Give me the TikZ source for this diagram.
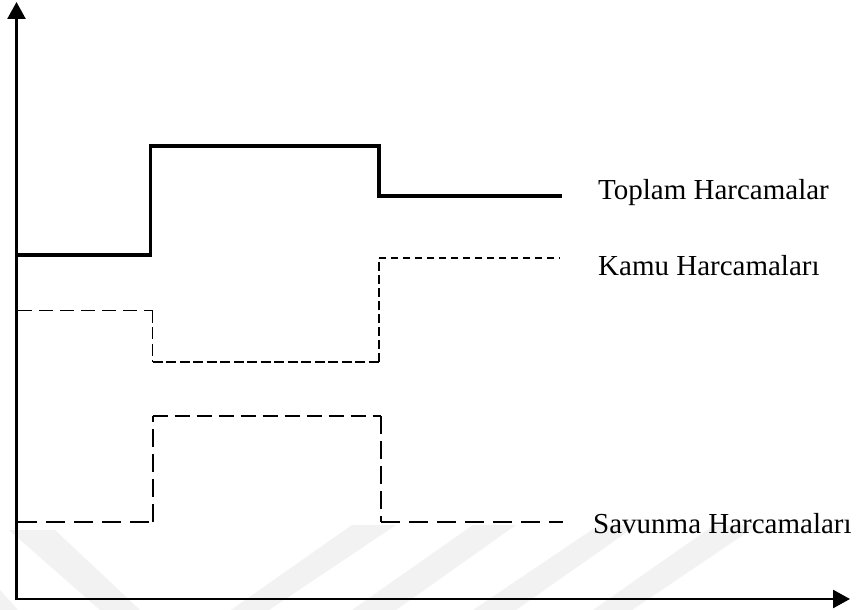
\documentclass[tikz,border=0pt]{standalone}
\usepackage{fontspec}
\setmainfont{Liberation Serif}
\usetikzlibrary{arrows.meta}
\begin{document}
\begin{tikzpicture}[x=1pt,y=-1pt,
  axis/.style={line width=2.6pt,-{Triangle[length=17pt,width=18pt]}},
  total/.style={line width=3.8pt,line cap=rect,line join=miter},
  kamu/.style={line width=1.6pt},
  savunma/.style={line width=2pt},
  lbl/.style={anchor=base west,inner sep=0pt,font=\fontsize{29}{34}\selectfont},
  wm/.style={fill=black!5,draw=none}]
\useasboundingbox (0,0) rectangle (857,610);
\fill[white] (0,0) rectangle (857,610);
% faint watermark bands
\path[wm] (9,530) -- (55,530) -- (140,610) -- (100,610) -- cycle;
\path[wm] (0,590) -- (0,610) -- (18,610) -- cycle;
\path[wm] (352,525) -- (396,525) -- (269,610) -- (231,610) -- cycle;
\path[wm] (473,525) -- (516,525) -- (396,610) -- (352,610) -- cycle;
\path[wm] (599,525) -- (637,525) -- (516,610) -- (473,610) -- cycle;
\path[wm] (714,525) -- (758,525) -- (632,610) -- (593,610) -- cycle;
% axes
\coordinate (o) at (16.5,599);
\coordinate (ytop) at (16.5,2);
\coordinate (xend) at (850,599);
\draw[axis] ([yshift=-1.3pt]o) -- (ytop);
\draw[axis] ([xshift=-1.3pt]o) -- (xend);
% Toplam Harcamalar
\draw[total] (18,255) -- (150.5,255) -- (150.5,146) -- (379,146) -- (379,196) -- (560,196);
% Kamu Harcamalari
\draw[kamu,dash pattern=on 14pt off 7pt] (18,310.5) -- (152.5,310.5);
\draw[kamu,dash pattern=on 12pt off 4.5pt] (152.5,310.5) -- (152.5,362);
\draw[kamu,dash pattern=on 10pt off 3.5pt] (152.5,362) -- (379,362);
\draw[kamu,dash pattern=on 9pt off 4pt] (379,362) -- (379,258);
\draw[kamu,line width=1.3pt,dash pattern=on 7pt off 5pt] (379,258) -- (560,258);
% Savunma Harcamalari
\draw[savunma,dash pattern=on 19pt off 9pt] (18,522) -- (152.5,522);
\draw[savunma,dash pattern=on 18pt off 7pt] (152.5,522) -- (152.5,416);
\draw[savunma,dash pattern=on 15pt off 7pt] (152.5,416) -- (381,416);
\draw[savunma,dash pattern=on 18pt off 7pt] (381,416) -- (381,522);
\draw[savunma,dash pattern=on 19pt off 9pt] (381,522) -- (563,522);
% labels
\node[lbl] (toplam) at (598,199) {Toplam Harcamalar};
\node[lbl] (kamu) at (598,275) {Kamu Harcamaları};
\node[lbl] (savunma) at (593,533) {Savunma Harcamaları};
\end{tikzpicture}
\end{document}
